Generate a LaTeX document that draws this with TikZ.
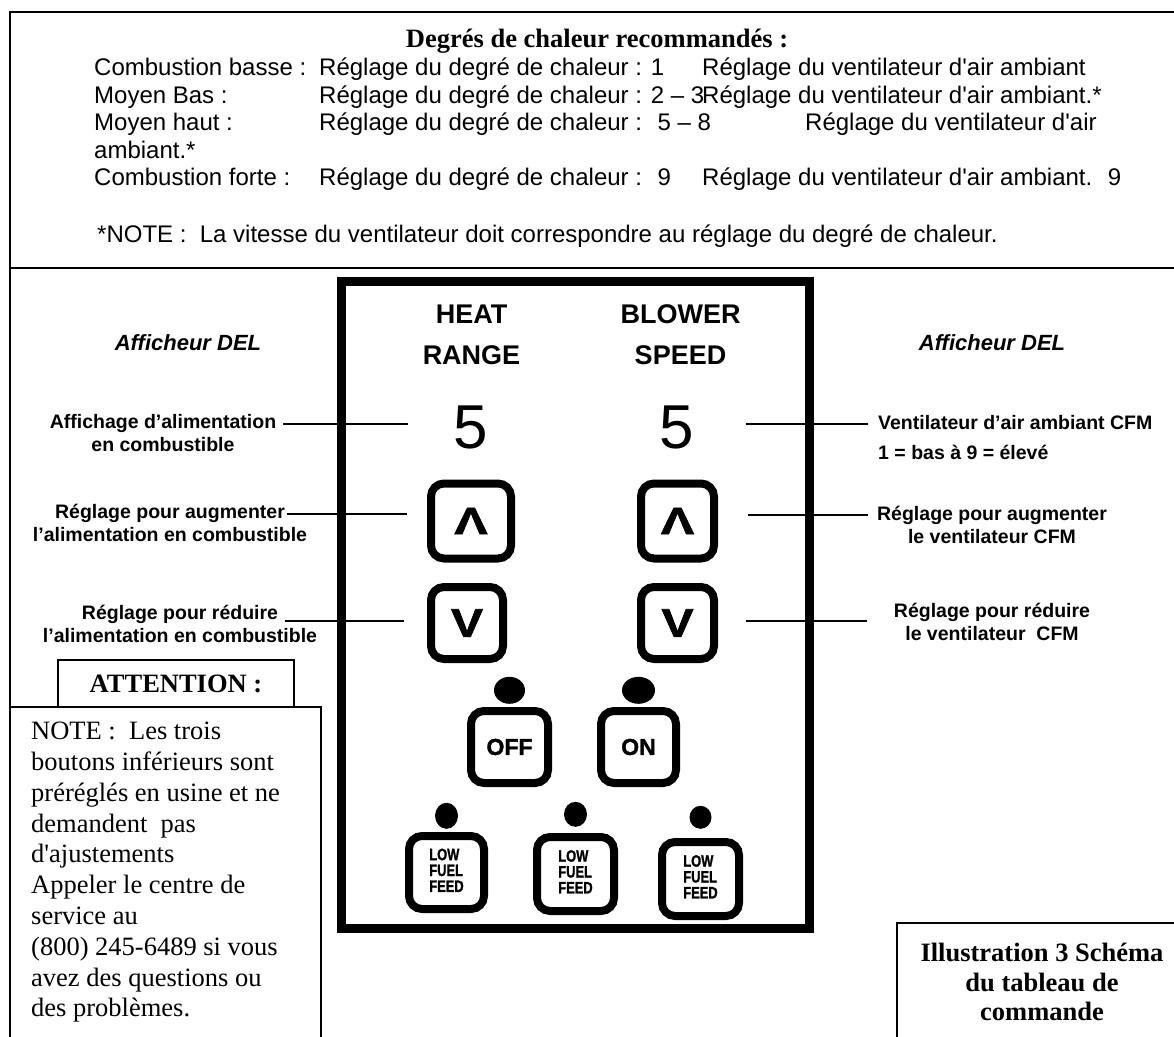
\documentclass[tikz,border=0pt]{standalone}
\usepackage{graphicx}
\usepackage{fontspec}
\setmainfont{Liberation Serif}
\setsansfont{Liberation Sans}
\newfontfamily\keyfont{Liberation Sans Bold}[FakeBold=1.5]
\usetikzlibrary{positioning,shapes.geometric}
\newcommand{\apos}{\textquotesingle}
\newcommand{\fsz}[2]{\fontsize{#1}{#2}\selectfont}
\newcommand{\lowfeed}{\scalebox{0.78}[1]{\begin{tabular}{@{}l@{}}LOW\\FUEL\\FEED\end{tabular}}}

\begin{document}
\begin{tikzpicture}[x=1pt,y=-1pt,
    frame/.style={line width=2pt},
    lead/.style={line width=2pt},
    hint/.style={anchor=base west,inner sep=0pt,font=\sffamily\fsz{24}{28}},
    lbl/.style={align=center,inner sep=0pt,font=\sffamily\bfseries\fsz{19.5}{23}},
    del/.style={inner sep=0pt,font=\sffamily\bfseries\itshape\fsz{22}{26}},
    head/.style={align=center,inner sep=0pt,font=\sffamily\bfseries\fsz{27}{41}},
    digit/.style={inner sep=0pt,font=\sffamily\fsz{62}{62}},
    btn/.style={draw,line width=8pt,rounded corners=13pt,inner sep=0pt,minimum width=75pt,minimum height=73pt},
    key/.style={btn,font=\keyfont\fsz{40}{40}},
    lff/.style={btn,font=\keyfont\fsz{16.5}{15}},
    led/.style={ellipse,fill,inner sep=0pt,minimum width=23pt,minimum height=26pt},
    serifbold/.style={inner sep=0pt,font=\rmfamily\bfseries\fsz{26.5}{29.5}}]

\useasboundingbox (0,0) rectangle (1174,1036);
\clip (0,0) rectangle (1174,1036);

\draw[frame] (1180,12) -- (9.5,12) -- (9.5,1040);
\draw[frame] (9.5,268) -- (1180,268);

\node[serifbold,anchor=base] (title) at (597,47) {Degrés de chaleur recommandés :};
\node[hint] (r1a) at (94,75)  {Combustion basse :};
\node[hint] (r1b) at (319,75) {Réglage du degré de chaleur : 1};
\node[hint] (r1c) at (702,75) {Réglage du ventilateur d\apos air ambiant};
\node[hint] (r2a) at (94,103)  {Moyen Bas :};
\node[hint] (r2b) at (319,103) {Réglage du degré de chaleur : 2 – 3};
\node[hint] (r2c) at (702,103) {Réglage du ventilateur d\apos air ambiant.*};
\node[hint] (r3a) at (94,130)  {Moyen haut :};
\node[hint] (r3b) at (319,130) {Réglage du degré de chaleur :~ 5 – 8};
\node[hint] (r3c) at (805,130) {Réglage du ventilateur d\apos air};
\node[hint] (r4a) at (94,158)  {ambiant.*};
\node[hint] (r5a) at (94,185)  {Combustion forte :};
\node[hint] (r5b) at (319,185) {Réglage du degré de chaleur :~ 9};
\node[hint] (r5c) at (702,185) {Réglage du ventilateur d\apos air ambiant.~ 9};
\node[hint] (nb)  at (97,242)  {*NOTE :~ La vitesse du ventilateur doit correspondre au réglage du degré de chaleur.};

\node[draw,line width=9pt,inner sep=0pt,minimum width=468pt,minimum height=647pt] (panel) at (575.5,605) {};
\node[head] (heat)   at (471.5,335) {HEAT\\RANGE};
\node[head] (blower) at (680.5,335) {BLOWER\\SPEED};
\node[digit] (dgL) at (471,427) {5};
\node[digit] (dgR) at (677,427) {5};

\node[key,minimum width=80pt,minimum height=75pt] (upL) at (471,521)   {\scalebox{1.25}[0.95]{\rotatebox{180}{V}}};
\node[key,minimum width=73pt,minimum height=75pt] (upR) at (677.5,521) {\scalebox{1.25}[0.95]{\rotatebox{180}{V}}};
\node[key,minimum width=72pt,minimum height=72pt] (dnL) at (467,623)   {\scalebox{1.2}[1]{V}};
\node[key,minimum width=73pt,minimum height=72pt] (dnR) at (677.5,623) {\scalebox{1.2}[1]{V}};

\node[btn,font=\keyfont\fsz{23}{23},minimum width=77pt,minimum height=72pt] (off) at (509.5,747) {\raisebox{-4pt}{OFF}};
\node[btn,font=\keyfont\fsz{23}{23},minimum width=75pt,minimum height=72pt] (on)  at (638.5,747) {\raisebox{-4pt}{ON}};
\node[led,minimum width=31pt,minimum height=27pt] (ledoff) [above=3pt of off] {};
\node[led,minimum width=33pt,minimum height=27pt] (ledon)  [above=3pt of on]  {};

\node[lff,minimum width=75pt,minimum height=73pt] (lff1) at (446.5,872.5) {\lowfeed};
\node[lff,minimum width=77pt,minimum height=74pt] (lff2) at (575.5,874)   {\lowfeed};
\node[lff,minimum width=77pt,minimum height=74pt] (lff3) at (700.5,879)   {\lowfeed};
\node[led] (led1) [above=3pt of lff1] {};
\node[led,minimum height=25pt] (led2) [above=6pt of lff2] {};
\node[led,minimum width=22pt,minimum height=23pt] (led3) [above=9pt of lff3] {};

\node[del] (delL) at (188,343) {Afficheur DEL};
\node[del] (delR) at (992,343) {Afficheur DEL};
\node[lbl] (labA) at (163,433.5) {Affichage d’alimentation\\en combustible};
\node[lbl] (labB) at (170,522.5) {Réglage pour augmenter\\l’alimentation en combustible};
\node[lbl] (labC) at (180,623.5) {Réglage pour réduire\\l’alimentation en combustible};
\node[lbl,align=left,anchor=west] (labD) at (878,438) {Ventilateur d’air ambiant CFM\\[7pt]1 = bas à 9 = élevé};
\node[lbl] (labE) at (992,524.5) {Réglage pour augmenter\\le ventilateur CFM};
\node[lbl] (labF) at (992,621.5) {Réglage pour réduire\\le ventilateur~ CFM};

\coordinate (ca) at (283,424);
\coordinate (cb) at (287,514);
\coordinate (cc) at (285,621);
\coordinate (cd) at (868,424);
\coordinate (ce) at (868,515);
\coordinate (cf) at (867,621);
\draw[lead,shorten >=46pt] (ca) -- (ca -| dgL.west);
\draw[lead,shorten >=20pt] (cb) -- (cb -| upL.west);
\draw[lead,shorten >=23pt] (cc) -- (cc -| dnL.west);
\draw[lead,shorten >=52pt] (cd) -- (cd -| dgR.east);
\draw[lead,shorten >=30pt] (ce) -- (ce -| upR.east);
\draw[lead,shorten >=28pt] (cf) -- (cf -| dnR.east);

\draw[frame] (9.5,707) -- (321,707) -- (321,1040);
\node[draw,line width=2pt,fill=white,minimum width=236pt,minimum height=47pt,serifbold] (att) at (176,683.5) {ATTENTION :};
\node[anchor=north west,align=left,inner sep=0pt,font=\rmfamily\fsz{26.5}{30.8}] (notetxt) at (31,722)
  {NOTE :~ Les trois\\boutons inférieurs sont\\préréglés en usine et ne\\demandent~ pas\\d\apos ajustements\\Appeler le centre de\\service au\\(800) 245-6489 si vous\\avez des questions ou\\des problèmes.};

\draw[frame] (1180,923) -- (897,923) -- (897,1040);
\node[serifbold,align=center] (caption) at (1042,982) {Illustration 3 Schéma\\du tableau de\\commande};
\end{tikzpicture}
\end{document}
